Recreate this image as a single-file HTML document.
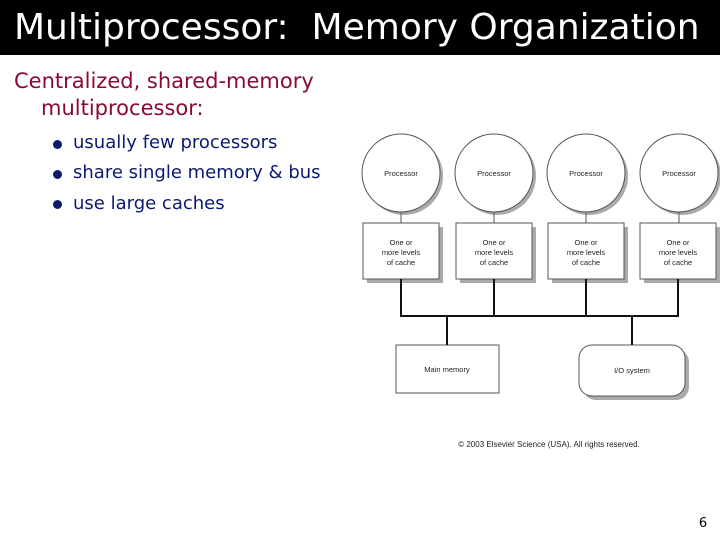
<!DOCTYPE html>
<html><head><meta charset="utf-8"><style>
body{margin:0;width:720px;height:540px;background:#fff;position:relative;overflow:hidden;font-family:"DejaVu Sans","Liberation Sans",sans-serif}
.title{position:absolute;left:0;top:0;width:720px;height:55px;background:#000;color:#fff;font-size:36px;line-height:55px;padding-left:14px;box-sizing:border-box;white-space:nowrap;font-family:"DejaVu Sans",sans-serif;letter-spacing:0px}
.t{position:absolute;white-space:nowrap}
.red{color:#8b0a2f;font-size:21px}
.blue{color:#0b1a6e;font-size:18px}
.dot{position:absolute;width:9px;height:9px;border-radius:50%;background:#0b1a6e}
</style></head><body>
<div class="title">Multiprocessor:&nbsp; Memory Organization</div>
<div class="t red" style="left:14px;top:69px">Centralized, shared-memory</div>
<div class="t red" style="left:41px;top:96px">multiprocessor:</div>
<div class="dot" style="left:53px;top:140px"></div>
<div class="dot" style="left:53px;top:170px"></div>
<div class="dot" style="left:53px;top:200px"></div>
<div class="t blue" style="left:73px;top:132px">usually few processors</div>
<div class="t blue" style="left:73px;top:162px">share single memory &amp; bus</div>
<div class="t blue" style="left:73px;top:193px">use large caches</div>
<svg width="720" height="540" style="position:absolute;left:0;top:0" font-family="Liberation Sans, sans-serif" font-size="7.5" text-anchor="middle">
<g fill="#aaa">
<circle cx="404" cy="176" r="39"/><circle cx="497" cy="176" r="39"/><circle cx="589" cy="176" r="39"/><circle cx="682" cy="176" r="39"/>
<rect x="367" y="227" width="76" height="56"/><rect x="460" y="227" width="76" height="56"/><rect x="552" y="227" width="76" height="56"/><rect x="644" y="227" width="76" height="56"/>
<rect x="583" y="349" width="106" height="51" rx="13"/>
</g>
<g stroke="#555" stroke-width="1" fill="#fff">
<line x1="401" y1="212" x2="401" y2="223"/><line x1="494" y1="212" x2="494" y2="223"/><line x1="586" y1="212" x2="586" y2="223"/><line x1="679" y1="212" x2="679" y2="223"/>
<circle cx="401" cy="173" r="39"/><circle cx="494" cy="173" r="39"/><circle cx="586" cy="173" r="39"/><circle cx="679" cy="173" r="39"/>
<rect x="363" y="223" width="76" height="56"/><rect x="456" y="223" width="76" height="56"/><rect x="548" y="223" width="76" height="56"/><rect x="640" y="223" width="76" height="56"/>
<rect x="396" y="345" width="103" height="48"/>
<rect x="579" y="345" width="106" height="51" rx="13"/>
</g>
<g stroke="#111" stroke-width="2" fill="none">
<path d="M401 279V316M494 279V316M586 279V316M678 279V316M400 316H679M447 316V345M632 316V345"/>
</g>
<g fill="#222">
<text x="401" y="176">Processor</text><text x="494" y="176">Processor</text><text x="586" y="176">Processor</text><text x="679" y="176">Processor</text>
<text x="401" y="245">One or</text><text x="401" y="255">more levels</text><text x="401" y="265">of cache</text>
<text x="494" y="245">One or</text><text x="494" y="255">more levels</text><text x="494" y="265">of cache</text>
<text x="586" y="245">One or</text><text x="586" y="255">more levels</text><text x="586" y="265">of cache</text>
<text x="678" y="245">One or</text><text x="678" y="255">more levels</text><text x="678" y="265">of cache</text>
<text x="447" y="372">Main memory</text>
<text x="632" y="373">I/O system</text>
<text x="549" y="447" font-size="8">© 2003 Elsevier Science (USA). All rights reserved.</text>
</g>
<text x="703" y="527" font-size="13" fill="#000" font-family="DejaVu Sans, sans-serif">6</text>
</svg>
</body></html>
